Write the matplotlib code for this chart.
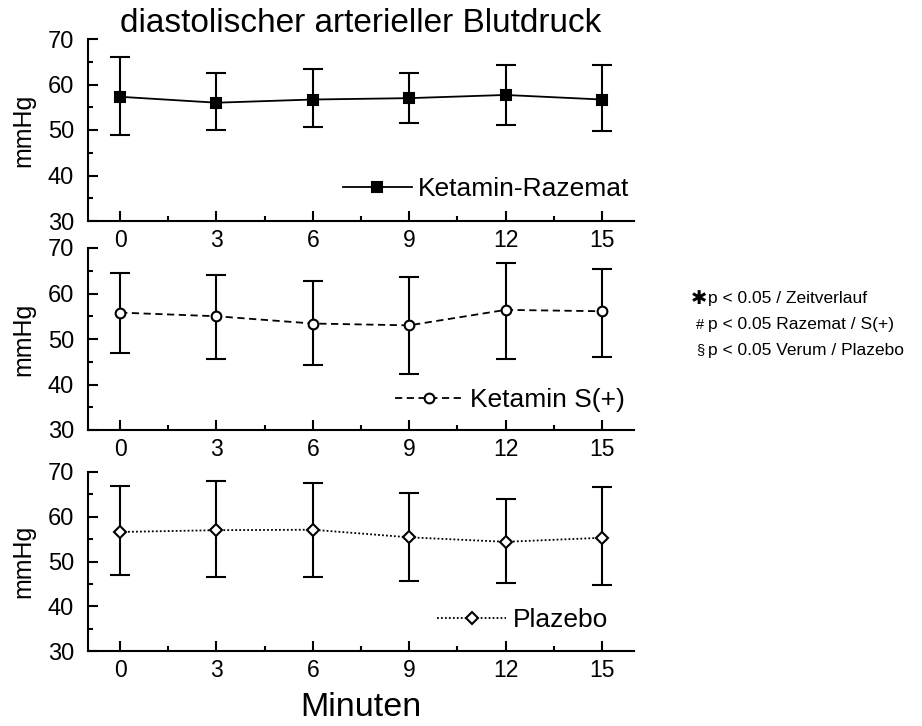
import matplotlib
matplotlib.use("Agg")
import matplotlib.pyplot as plt
from matplotlib.ticker import MultipleLocator, FixedLocator

plt.rcParams["font.family"] = ["Liberation Sans", "DejaVu Sans"]

minutes = [0, 3, 6, 9, 12, 15]

# mean, upper and lower whisker ends (mmHg)
raz_mean = [57.3, 56.0, 56.7, 57.0, 57.7, 56.7]
raz_hi = [66.0, 62.5, 63.3, 62.5, 64.2, 64.2]
raz_lo = [48.8, 50.1, 50.7, 51.5, 51.0, 49.7]

spl_mean = [55.8, 55.0, 53.4, 53.0, 56.4, 56.1]
spl_hi = [64.5, 64.0, 62.7, 63.6, 66.7, 65.4]
spl_lo = [46.9, 45.6, 44.2, 42.4, 45.6, 46.1]

pla_mean = [56.6, 57.0, 57.1, 55.4, 54.4, 55.3]
pla_hi = [66.9, 67.9, 67.5, 65.2, 63.9, 66.6]
pla_lo = [46.9, 46.5, 46.5, 45.6, 45.1, 44.7]

labels = ["Ketamin-Razemat", "Ketamin S(+)", "Plazebo"]
notes = ["p < 0.05 / Zeitverlauf", "p < 0.05 Razemat / S(+)", "p < 0.05 Verum / Plazebo"]

W, H = 922, 726
fig = plt.figure(figsize=(W / 100, H / 100), dpi=100)

# (top, bottom) of each panel in pixels
panels = [(39, 221), (248, 430), (472, 651)]
left, right = 88, 634
# right edge / vertical centre of each legend in axes fraction
leg_x = [0.992, 0.983, 0.952]
leg_y = [0.175, 0.165, 0.173]

series = [
    (raz_mean, raz_hi, raz_lo, "-", "s", "black"),
    (spl_mean, spl_hi, spl_lo, (0, (4, 2.5)), "o", "white"),
    (pla_mean, pla_hi, pla_lo, (0, (1, 1.2)), "D", "white"),
]
msizes = [7.5, 7, 6.5]

axes = []
for i, ((top, bot), (m, hi, lo, ls, mk, fc)) in enumerate(zip(panels, series)):
    ax = fig.add_axes([left / W, (H - bot) / H, (right - left) / W, (bot - top) / H])
    axes.append(ax)
    yerr = [[a - b for a, b in zip(m, lo)], [b - a for a, b in zip(m, hi)]]
    ax.errorbar(minutes, m, yerr=yerr, fmt="none", ecolor="black",
                elinewidth=1.5, capsize=7.5, capthick=1.5, zorder=2)
    ax.plot(minutes, m, linestyle=ls, color="black", lw=1.3, marker=mk,
            markersize=msizes[i], markerfacecolor=fc, markeredgecolor="black",
            markeredgewidth=1.5, label=labels[i], zorder=3)
    ax.set_xlim(-1, 16)
    ax.set_ylim(30, 70)
    ax.set_xticks(minutes)
    ax.xaxis.set_minor_locator(FixedLocator([1.5, 4.5, 7.5, 10.5, 13.5]))
    ax.yaxis.set_major_locator(MultipleLocator(10))
    ax.yaxis.set_minor_locator(MultipleLocator(5))
    for s in ("top", "right"):
        ax.spines[s].set_visible(False)
    for s in ("left", "bottom"):
        ax.spines[s].set_linewidth(1.5)
    ax.tick_params(axis="both", which="major", direction="in", length=7.5, width=1.5)
    ax.tick_params(axis="both", which="minor", direction="in", length=3.5, width=1.5)
    ax.tick_params(axis="y", which="major", labelsize=17, pad=10)
    ax.tick_params(axis="x", which="major", labelsize=16.5, pad=6)
    ax.set_ylabel("mmHg", fontsize=18)
    ax.yaxis.set_label_coords(-0.097, 0.5)
    ax.legend(loc="center right", frameon=False, fontsize=19, handlelength=2.6,
              handletextpad=0.25, borderaxespad=0.0, borderpad=0.0,
              bbox_to_anchor=(leg_x[i], leg_y[i]))

axes[0].set_title("diastolischer arterieller Blutdruck", fontsize=24, pad=3)
axes[2].set_xlabel("Minuten", fontsize=24.5, labelpad=7)

# significance key on the right
ys = [299, 325, 350]
syms = ["\u2731", "#", "\u00a7"]
for y, sym, txt in zip(ys, syms, notes):
    sx = 691 if sym == "\u2731" else 696
    fs = 14 if sym == "\u2731" else 10.5
    fig.text(sx / W, (H - y) / H, sym, fontsize=fs, va="center", ha="left",
             family=["DejaVu Sans"] if sym == "\u2731" else None)
    fig.text(708 / W, (H - y) / H, txt, fontsize=12.5, va="center", ha="left")

fig.savefig("out.png", dpi=100)
